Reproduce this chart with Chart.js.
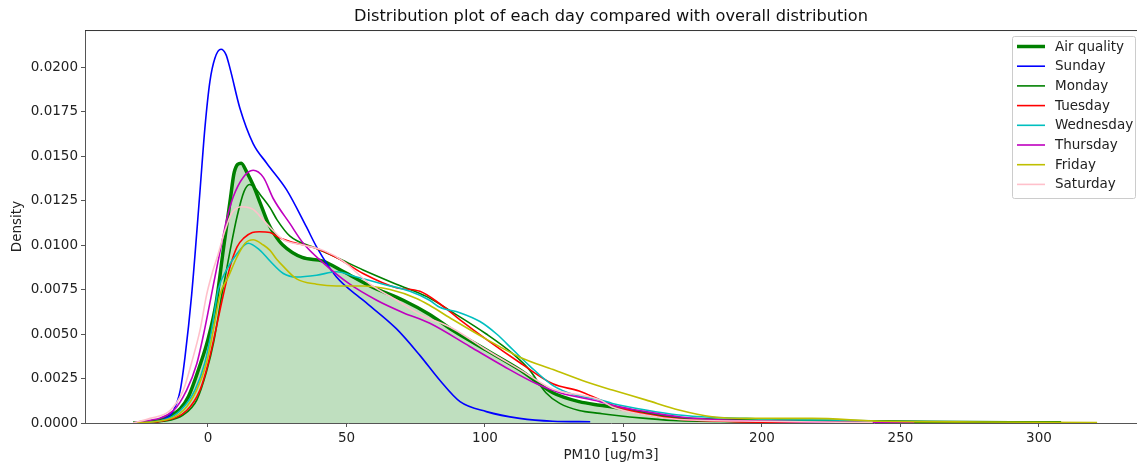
<!DOCTYPE html>
<html>
<head>
<meta charset="utf-8">
<script src="https://cdn.jsdelivr.net/npm/chart.js@4"></script>
<style>
  html, body { margin: 0; padding: 0; background: #fff; }
  #wrap { width: 1137px; height: 465px; }
</style>
</head>
<body>
<div id="wrap"><canvas id="kde" width="1137" height="465"></canvas></div>
<script>
// values (PM10 vs density)
const xTicks = [0, 50, 100, 150, 200, 250, 300];
const yTicks = [0, 0.0025, 0.005, 0.0075, 0.01, 0.0125, 0.015, 0.0175, 0.02];

const airX = [-27, -20, -15, -10, -7, -3, 0, 3, 5.5, 8, 9.5, 12, 14, 16.5, 19, 21.5, 24, 27, 34, 41.5, 49, 58.5, 70.5, 80, 88.5, 100.5, 112.5, 124.5, 134, 141.5, 146, 158, 170, 182, 200, 230, 260, 308];
const airY = [0, 0.00008, 0.0003, 0.0008, 0.0015, 0.0032, 0.0047, 0.0068, 0.0097, 0.0125, 0.0141, 0.0146, 0.0141, 0.0133, 0.0123, 0.0113, 0.0106, 0.0100, 0.0093, 0.0091, 0.0085, 0.0077, 0.0069, 0.0061, 0.0052, 0.0041, 0.0030, 0.0017, 0.0012, 0.0010, 0.0009, 0.00054, 0.00026, 0.00017, 0.00012, 0.00008, 0.00004, 0.00001];

const sunX = [-22, -16, -12.5, -10, -8.3, -5.9, -3, -1.1, 0.7, 2.5, 4.7, 6.5, 8, 11.5, 16.3, 21.2, 28.4, 35.6, 39.2, 46.4, 56, 68, 76.5, 83.7, 91, 100.5, 112.5, 124.5, 138];
const sunY = [0, 0.0002, 0.0007, 0.00185, 0.0037, 0.0072, 0.0128, 0.0166, 0.0192, 0.0205, 0.0210, 0.0207, 0.0199, 0.0177, 0.0157, 0.0146, 0.0131, 0.0110, 0.0099, 0.0082, 0.0069, 0.0053, 0.0038, 0.0024, 0.0012, 0.00064, 0.00026, 0.0001, 0.00007];

const monX = [-27, -16, -9, -4, -0.5, 2, 5, 8, 10.5, 13, 15, 17, 19, 22.4, 25, 29.6, 39.2, 46.4, 56, 68, 79, 88.5, 100.5, 110, 116, 122, 127, 134, 141.5, 146, 158, 170, 200, 250, 308];
const monY = [0, 0.0001, 0.00045, 0.0013, 0.0029, 0.0045, 0.0072, 0.0097, 0.0116, 0.0130, 0.0134, 0.0132, 0.0128, 0.0121, 0.0114, 0.0105, 0.0098, 0.0093, 0.0086, 0.0078, 0.0071, 0.0062, 0.0050, 0.0039, 0.0030, 0.0017, 0.0011, 0.0007, 0.00054, 0.00045, 0.00026, 0.00013, 0.00008, 0.00006, 0.00004];

const tueX = [-27, -16, -7.7, -2.9, 0, 2.5, 5.4, 8, 10.5, 13, 16, 18.5, 22.4, 26, 29.6, 39.2, 46.4, 56, 68, 76.5, 83.7, 91, 100.5, 112.5, 124.5, 134, 141.5, 146, 158, 170, 190, 215, 245];
const tueY = [0, 0.00013, 0.0007, 0.00185, 0.0033, 0.0050, 0.0071, 0.0088, 0.0099, 0.0104, 0.0107, 0.01075, 0.0107, 0.0104, 0.0102, 0.0098, 0.0093, 0.0084, 0.0076, 0.0074, 0.0067, 0.0058, 0.0047, 0.0034, 0.0022, 0.0018, 0.0013, 0.0010, 0.0005, 0.00022, 0.00008, 0.00003, 0.00001];

const wedX = [-27, -16, -10, -4.7, -1.1, 1.3, 3.7, 6.7, 10.4, 14.5, 18.8, 22.4, 27.2, 32, 39.2, 46.4, 53.7, 63.3, 72.9, 80, 83.7, 90.9, 98.2, 104.2, 110.2, 116.2, 124.6, 131.9, 141.5, 146, 158, 170, 182, 194.5, 206, 224, 240, 252];
const wedY = [0, 0.00017, 0.0007, 0.00185, 0.0034, 0.0052, 0.0075, 0.0086, 0.0095, 0.0101, 0.0097, 0.0091, 0.0084, 0.0082, 0.0083, 0.0085, 0.0082, 0.0078, 0.0074, 0.0069, 0.0065, 0.0062, 0.0057, 0.0050, 0.0041, 0.0032, 0.0021, 0.0016, 0.0013, 0.0011, 0.00073, 0.00045, 0.00032, 0.00026, 0.00017, 0.00017, 0.0001, 0.00004];

const thuX = [-27, -12.5, -7.7, -4.1, -1.7, 0, 2, 4.3, 6.7, 9.1, 12.7, 16.3, 20, 23.6, 29.6, 34.4, 41.6, 51.2, 60.9, 70.5, 80.1, 94.5, 106.6, 118.6, 127, 141.5, 146, 158, 170, 182, 194.5, 220, 255];
const thuY = [0, 0.0007, 0.00185, 0.0033, 0.0049, 0.0062, 0.0078, 0.0096, 0.0114, 0.0127, 0.0138, 0.0142, 0.0138, 0.0126, 0.0112, 0.0101, 0.0090, 0.0078, 0.0069, 0.0062, 0.0056, 0.0043, 0.0032, 0.0022, 0.0017, 0.0012, 0.0010, 0.00064, 0.00035, 0.0002, 0.00013, 0.00005, 0.00001];

const friX = [-27, -16, -8.9, -4.1, -0.5, 1.9, 4.3, 7.3, 10.4, 13.4, 16.3, 20, 22.4, 24.8, 27.2, 32, 39.2, 46.4, 56, 65.7, 75.3, 80.1, 88.5, 100.6, 112.6, 124.6, 136.7, 146, 158, 170, 182, 194.5, 218, 243, 280, 321];
const friY = [0, 0.00015, 0.0007, 0.00185, 0.0034, 0.0052, 0.0072, 0.0082, 0.0093, 0.0101, 0.0103, 0.0100, 0.0097, 0.0092, 0.0088, 0.0081, 0.0078, 0.0077, 0.0077, 0.0075, 0.0070, 0.0066, 0.0058, 0.0047, 0.0037, 0.0030, 0.0023, 0.00185, 0.0013, 0.00073, 0.00035, 0.00026, 0.00026, 0.0001, 0.00006, 0.00003];

const satX = [-27, -20.9, -13.7, -8.9, -5.9, -2.9, -0.5, 1.3, 3.7, 6.1, 8.6, 12.2, 16.3, 20, 23.6, 27.2, 34.4, 41.6, 48.8, 58.5, 68.1, 76.5, 88.5, 100.6, 112.6, 124.6, 136.7, 141.5, 146, 158, 170, 200, 240];
const satY = [0, 0.00026, 0.0007, 0.00185, 0.0034, 0.0052, 0.0072, 0.0083, 0.0095, 0.0108, 0.0118, 0.01215, 0.0120, 0.0114, 0.0108, 0.0103, 0.0100, 0.0097, 0.0091, 0.0078, 0.0069, 0.0061, 0.0053, 0.0041, 0.0030, 0.0019, 0.0015, 0.0013, 0.0009, 0.00045, 0.0002, 0.0001, 0.00002];

const seriesNames = ["Air quality", "Sunday", "Monday", "Tuesday", "Wednesday", "Thursday", "Friday", "Saturday"];
const seriesX = [airX, sunX, monX, tueX, wedX, thuX, friX, satX];
const seriesY = [airY, sunY, monY, tueY, wedY, thuY, friY, satY];
const colors = ["#008000", "#0000ff", "#008000", "#ff0000", "#00bfbf", "#bf00bf", "#bfbf00", "#ffc0cb"];

function zip(xs, ys) {
  return xs.map((x, i) => ({ x, y: ys[i] }));
}

const datasets = seriesNames.map((name, i) => ({
  label: name,
  data: zip(seriesX[i], seriesY[i]),
  borderColor: colors[i],
  borderWidth: i === 0 ? 3.5 : 1.6,
  pointRadius: 0,
  cubicInterpolationMode: "monotone",
  fill: i === 0 ? "origin" : false,
  backgroundColor: i === 0 ? "rgba(0,128,0,0.25)" : colors[i],
  order: seriesNames.length - i
}));

const FONT = "'DejaVu Sans', sans-serif";
const TICK_SIZE = 13.5;

// matplotlib-ish legend box in the top right corner
const legendBox = {
  id: "legendBox",
  afterDraw(chart) {
    const ctx = chart.ctx;
    const x0 = 1012.5, y0 = 36.5, w = 123, h = 162;
    ctx.save();
    ctx.fillStyle = "rgba(255,255,255,0.8)";
    ctx.strokeStyle = "#cccccc";
    ctx.lineWidth = 1;
    ctx.beginPath();
    ctx.roundRect(x0, y0, w, h, 2);
    ctx.fill();
    ctx.stroke();
    ctx.font = TICK_SIZE + "px " + FONT;
    ctx.textBaseline = "middle";
    seriesNames.forEach((name, i) => {
      const y = 46.5 + i * 19.7;
      ctx.strokeStyle = colors[i];
      ctx.lineWidth = i === 0 ? 3.5 : 1.6;
      ctx.beginPath();
      ctx.moveTo(1017, y);
      ctx.lineTo(1045, y);
      ctx.stroke();
      ctx.fillStyle = "#222";
      ctx.fillText(name, 1055, y + 0.5);
    });
    ctx.restore();
  }
};

// top spine
const topSpine = {
  id: "topSpine",
  afterDatasetsDraw(chart) {
    const { ctx, chartArea } = chart;
    ctx.save();
    ctx.strokeStyle = "#333";
    ctx.lineWidth = 1;
    ctx.beginPath();
    ctx.moveTo(chartArea.left, chartArea.top + 0.5);
    ctx.lineTo(chartArea.right, chartArea.top + 0.5);
    ctx.stroke();
    ctx.restore();
  }
};

new Chart(document.getElementById("kde"), {
  type: "line",
  data: { datasets },
  options: {
    responsive: false,
    animation: false,
    events: [],
    layout: { padding: 0 },
    plugins: {
      legend: { display: false },
      tooltip: { enabled: false },
      title: {
        display: true,
        fullSize: false,
        text: "Distribution plot of each day compared with overall distribution",
        color: "#111",
        font: { family: FONT, size: 16.2, weight: "normal" },
        padding: { top: 7.3, bottom: 3.3 }
      }
    },
    scales: {
      x: {
        type: "linear",
        min: -44.4,
        max: 335.4,
        afterBuildTicks: s => { s.ticks = xTicks.map(v => ({ value: v })); },
        afterFit: s => { s.height = 42; },
        grid: { display: true, drawOnChartArea: false, drawTicks: true, tickLength: 4, color: "#555" },
        border: { display: true, color: "#555", width: 1 },
        ticks: { color: "#222", font: { family: FONT, size: TICK_SIZE }, padding: 3, maxRotation: 0 },
        title: { display: true, text: "PM10 [ug/m3]", color: "#222", font: { family: FONT, size: TICK_SIZE }, padding: { top: 0, bottom: 1 } }
      },
      y: {
        min: 0,
        max: 0.02208,
        afterBuildTicks: s => { s.ticks = yTicks.map(v => ({ value: v })); },
        afterFit: s => { s.width = 85; },
        grid: { display: true, drawOnChartArea: false, drawTicks: true, tickLength: 4, color: "#555" },
        border: { display: true, color: "#555", width: 1 },
        ticks: { color: "#222", font: { family: FONT, size: TICK_SIZE }, padding: 3, callback: v => v.toFixed(4) },
        title: { display: true, text: "Density", color: "#222", font: { family: FONT, size: TICK_SIZE }, padding: { top: 9, bottom: 0 } }
      }
    }
  },
  plugins: [legendBox, topSpine]
});
</script>
</body>
</html>
